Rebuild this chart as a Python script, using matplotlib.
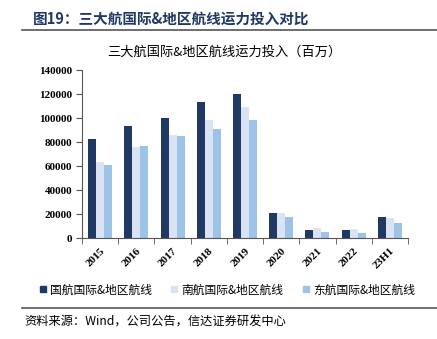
import numpy as np
import matplotlib
matplotlib.use("Agg")
import matplotlib.pyplot as plt
from matplotlib.lines import Line2D

plt.rcParams['font.family'] = ['Noto Sans CJK SC', 'DejaVu Sans']

years = ['2015', '2016', '2017', '2018', '2019', '2020', '2021', '2022', '23H1']
air_china = [82200, 93300, 99700, 113300, 120000, 20600, 6400, 6400, 17500]
china_southern = [63300, 76100, 86100, 98300, 108900, 20600, 8300, 7800, 16400]
china_eastern = [60800, 76600, 85000, 90800, 98300, 17500, 4700, 3900, 12800]
series_names = ['国航国际&地区航线', '南航国际&地区航线', '东航国际&地区航线']
colors = ['#1F3864', '#DAE3F3', '#9DC3E6']

fig = plt.figure(figsize=(4.37, 3.39), dpi=100)
ax = fig.add_axes([82 / 437, 1 - 238 / 339, 326 / 437, 168 / 339])

ind = np.arange(len(years))
width = 0.22
for k, (vals, c, name) in enumerate(zip([air_china, china_southern, china_eastern], colors, series_names)):
    ax.bar(ind + (k - 1) * width, vals, width, color=c, label=name, zorder=2)

ax.set_xlim(-0.5, len(years) - 0.5)
ax.set_ylim(0, 140000)
ax.set_yticks(np.arange(0, 140001, 20000))
ax.set_yticklabels([str(v) for v in range(0, 140001, 20000)],
                   fontfamily='Liberation Serif', fontweight='bold', fontsize=8)
ax.set_xticks(ind)
ax.set_xticklabels(years, rotation=45, ha='right', va='top', rotation_mode='anchor',
                   fontfamily='Liberation Serif', fontweight='bold', fontsize=8)
ax.tick_params(axis='x', length=0, pad=6)
ax.set_xticks(np.arange(-0.5, len(years), 1), minor=True)
ax.tick_params(axis='x', which='minor', length=4, direction='out', color='#555555')
ax.tick_params(axis='y', length=4, direction='out', color='#555555', pad=3)
for s in ['top', 'right']:
    ax.spines[s].set_visible(False)
ax.spines['left'].set_color('#555555')
ax.spines['bottom'].set_color('#555555')

# chart title sits centred on the figure, not the axes
fig.text(224 / 437, 1 - 52 / 339, '三大航国际&地区航线运力投入（百万）', fontsize=9.5,
         ha='center', va='center')

handles = [Line2D([], [], marker='s', linestyle='none', color=c, markersize=5) for c in colors]
fig.legend(handles, series_names, loc='center', bbox_to_anchor=(227 / 437, 1 - 290 / 339), ncol=3,
           frameon=False, fontsize=8.5, handlelength=0.6, handletextpad=0.3, columnspacing=1.6)

fig.text(33 / 437, 1 - 19 / 339, '图19：三大航国际&地区航线运力投入对比', fontsize=10.5,
         fontweight='bold', color='#1F3864', va='center')
fig.add_artist(Line2D([22 / 437, 1], [1 - 30 / 339, 1 - 30 / 339], color='#555555', lw=1.2))
fig.add_artist(Line2D([22 / 437, 1], [1 - 308 / 339, 1 - 308 / 339], color='#555555', lw=1.2))
fig.text(24 / 437, 1 - 322 / 339, '资料来源：Wind，公司公告，信达证券研发中心', fontsize=8.8,
         style='italic', va='center')

fig.savefig('out.png', dpi=100)
